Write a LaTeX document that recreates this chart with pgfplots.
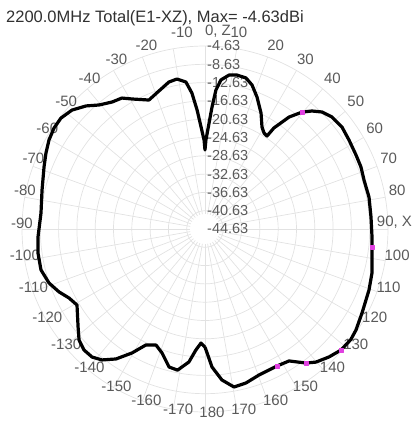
\documentclass[border=0pt]{standalone}
\usepackage{fontspec}
\setmainfont{Liberation Sans}
\usepackage{pgfplots}
\pgfplotsset{compat=1.18}
\usepgfplotslibrary{polar}
\usepackage{pgfplotstable}

\definecolor{gridc}{HTML}{E2E2E2}
\definecolor{lblc}{HTML}{5A5A5A}
\definecolor{titc}{HTML}{303030}
\definecolor{magmk}{HTML}{E040E0}

% angle (deg, 0 = Z, 90 = X) and total gain (dBi)
\pgfplotstableread{
a g
-180.0 -18.80
-178.0 -19.69
-175.7 -18.11
-173.1 -15.35
-169.0 -13.20
-165.4 -13.46
-160.9 -15.95
-157.1 -17.11
-153.0 -16.18
-149.5 -13.18
-145.6 -10.20
-141.8 -8.21
-138.6 -7.31
-135.0 -7.23
-131.4 -7.93
-127.7 -9.57
-120.7 -12.09
-116.9 -11.30
-113.3 -9.88
-109.1 -8.55
-104.0 -7.68
-98.2 -7.75
-92.7 -8.09
-84.4 -8.61
-76.5 -8.00
-68.9 -6.92
-64.5 -6.11
-60.3 -5.37
-56.2 -4.93
-52.4 -4.89
-48.2 -5.63
-44.0 -7.23
-40.5 -8.98
-36.2 -10.23
-32.4 -10.73
-29.3 -12.04
-23.5 -13.89
-19.2 -13.00
-13.8 -11.55
-10.6 -11.28
-7.4 -12.23
-5.5 -14.77
-3.8 -18.56
-2.2 -22.33
-0.6 -25.18
0.0 -27.36
0.6 -25.18
2.2 -21.44
3.3 -17.92
4.5 -14.15
6.1 -11.87
8.9 -10.56
11.7 -10.25
15.2 -10.43
18.1 -11.52
21.5 -13.62
25.8 -16.48
29.2 -19.09
31.6 -20.00
33.7 -20.20
34.3 -17.89
36.9 -14.03
39.7 -11.41
42.2 -9.81
45.0 -8.46
48.6 -7.62
53.3 -7.30
58.3 -7.63
63.9 -7.87
68.3 -7.94
72.9 -8.26
79.0 -8.11
85.9 -8.25
92.7 -8.08
96.2 -7.92
104.8 -6.88
110.4 -6.38
118.1 -5.71
123.8 -4.92
127.2 -4.63
131.7 -4.84
135.9 -5.68
140.2 -6.76
143.0 -7.95
147.5 -10.43
152.3 -10.80
159.7 -10.60
165.1 -9.80
169.6 -9.52
173.6 -11.42
177.1 -14.43
179.5 -18.18
180.0 -18.80
}\gaindata

\begin{document}
\begin{tikzpicture}[x=1bp,y=1bp]
% grid: rings every 4 dB (18.3bp), spokes every 10 deg
\begin{scope}[draw=gridc, line width=0.7bp]
\foreach \k in {1,...,10}
  \draw (0,0) circle[radius=18.3*\k];
\foreach \ang in {0,10,...,350}
  \draw ({15*sin(\ang)},{15*cos(\ang)}) -- ({183*sin(\ang)},{183*cos(\ang)});
\end{scope}
% title
\node[anchor=base west, inner sep=0, text=titc, font=\fontsize{16.5bp}{19bp}\selectfont]
  at (-199,207) {2200.0MHz Total(E1-XZ), Max= -4.63dBi};
% angle labels
\begin{scope}[text=lblc, font=\fontsize{15bp}{17bp}\selectfont]
\foreach \ang in {-170,-160,...,-100,-80,-70,...,-20,20,30,...,80,100,110,...,170}
  \node[inner sep=0] at ({189*sin(\ang)+6},{189*cos(\ang)+6}) {\ang};
\node[inner sep=0] at (-23,196.5) {-10};
\node[inner sep=0] at (13,197.5) {0, Z};
\node[inner sep=0] at (34,196.5) {10};
\node[inner sep=0] at (189.5,7) {90, X};
\node[inner sep=0] at (-183,6) {-90};
\node[inner sep=0] at (7,-183) {180};
\end{scope}
% radial labels
\begin{scope}[text=lblc, font=\fontsize{14.5bp}{17bp}\selectfont]
\foreach \k/\lab in {0/-44.63,1/-40.63,2/-36.63,3/-32.63,4/-28.63,5/-24.63,
                   6/-20.63,7/-16.63,8/-12.63,9/-8.63,10/-4.63}
  \node[anchor=west, inner sep=0] at (2,18.3*\k) {\lab};
\end{scope}
\begin{polaraxis}[
    at={(0,0)}, anchor=center,
    width=366bp, height=366bp, scale only axis,
    ymin=0, ymax=40,
    xtick=\empty, ytick=\empty,
    axis line style={draw=none},
    clip=false,
]
% magenta markers sit on rows 63, 75, 81, 84, 86
\addplot[black, line width=3.2bp, line join=round,
  mark=square*, mark size=1.8bp, mark indices={63,75,81,84,86},
  mark options={draw=magmk, fill=magmk, line width=0.4bp}]
  table[x expr=90-\thisrow{a}, y expr=\thisrow{g}+44.63] {\gaindata};
\end{polaraxis}
\pgfresetboundingbox
\path[use as bounding box] (-205,-195) rectangle (209,229);
\end{tikzpicture}
\end{document}
